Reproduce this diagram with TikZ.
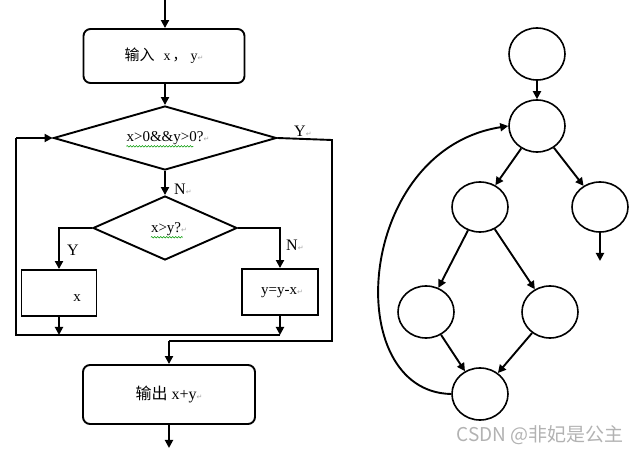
\documentclass[tikz,border=0pt]{standalone}
\usepackage{fontspec}
\setmainfont{Liberation Serif}
\newfontfamily\cjk{Noto Sans CJK SC}
\newfontfamily\symf{DejaVu Sans}
\usetikzlibrary{arrows.meta,shapes.geometric,decorations.pathmorphing}
\newcommand{\ret}{{\symf\fontsize{7}{7}\selectfont\color{gray!70}↵}}
\begin{document}
\begin{tikzpicture}[x=1pt,y=-1pt,
  ln/.style={line width=1.9pt},
  arr/.style={ln,-{Triangle[length=8pt,width=8pt]}},
  rbox/.style={draw,ln,rounded corners=7pt,inner sep=0pt},
  pbox/.style={draw,ln,inner sep=0pt},
  dia/.style={draw,ln,diamond,inner sep=0pt,aspect=3.4},
  circ/.style={draw,line width=1.6pt,ellipse,inner sep=0pt,minimum width=56pt,minimum height=52pt},
  lat/.style={font=\fontsize{15}{15}\selectfont},
  lab/.style={font=\fontsize{16}{16}\selectfont,inner sep=0pt},
  wavy/.style={draw=green!60!black,line width=0.5pt,decorate,decoration={snake,amplitude=0.8pt,segment length=3pt}}
]
\useasboundingbox (0,0) rectangle (641,454);
% ---------- flowchart ----------
\coordinate (top) at (165,0);
\node[rbox,minimum width=161pt,minimum height=54pt] (in) at (164,56)
  {{\cjk\fontsize{15}{15}\selectfont 输入}\hspace{9pt}{\fontsize{14}{14}\selectfont x\hspace{2pt}{\cjk ，}\hspace{4pt}y}\ret};
\node[dia,minimum width=223pt,minimum height=64pt] (d1) at (165,138) {};
\node[lat,inner sep=0pt] (t1) at (168,138) {x>0\&\&y>0?\ret};
\node[dia,minimum width=144pt,minimum height=64pt] (d2) at (165,228) {};
\node[lat,inner sep=0pt] (t2) at (169,229) {x>y?\ret};
\node[pbox,minimum width=75pt,minimum height=46pt] (lb) at (59,293) {};
\node[lat,inner sep=0pt] (lbt) at (77,298) {x};
\node[pbox,minimum width=76pt,minimum height=46pt] (rb) at (280,292) {};
\node[lat,inner sep=0pt] (rbt) at (282,293) {y=y-x\ret};
\node[rbox,minimum width=172pt,minimum height=59pt] (out) at (169,394.5)
  {{\cjk\fontsize{16}{16}\selectfont 输出}\hspace{4pt}{\fontsize{16}{16}\selectfont x+y}\ret};
\coordinate (bot) at (169,448);
% wavy underlines
\draw[wavy] (t1.south west) ++(0,1.5) -- ++(67,0);
\draw[wavy] (t2.south west) ++(0,1.5) -- ++(32,0);
% labels
\node[lab,anchor=west] (ly1) at (294,131) {Y\ret};
\node[lab,anchor=west] (ln1) at (174,189) {N\ret};
\node[lab,anchor=west] (ly2) at (67,250) {Y};
\node[lab,anchor=west] (ln2) at (286,245) {N\ret};
% connectors
\draw[arr] (top) -- (in.north -| top);
\draw[arr] (in.south -| d1.north) -- (d1.north);
\draw[arr] (d1.south) -- (d2.north);
\draw[arr] (d2.west) -| (lb.north);
\draw[arr] (d2.east) -| (rb.north);
\coordinate (bl) at (16,335);
\coordinate (br) at (rb.south |- bl);
\draw[ln] (br) -- (bl) -- (bl |- d1.west);
\draw[arr] (bl |- d1.west) -- (d1.west);
\draw[arr] (lb.south) -- (lb.south |- bl);
\draw[arr] (rb.south) -- (br);
\coordinate (ye) at (332,140);
\coordinate (yb) at (332,341);
\draw[ln] (d1.east) -- (ye) -- (yb) -- (yb -| out.north);
\draw[arr] (yb -| out.north) -- (out.north);
\draw[arr] (out.south) -- (bot);
% ---------- graph ----------
\node[circ] (n1) at (537,54) {};
\node[circ] (n2) at (537,126) {};
\node[circ,minimum width=56pt,minimum height=50pt] (n3) at (480,207) {};
\node[circ,minimum width=56pt,minimum height=50pt] (n4) at (600,207) {};
\node[circ] (n5) at (426,312) {};
\node[circ] (n6) at (550,312) {};
\node[circ] (n7) at (480,394) {};
\coordinate (n4e) at (600,261);
\draw[arr] (n1) -- (n2);
\draw[arr] (n2) -- (n3);
\draw[arr] (n2) -- (n4);
\draw[arr] (n3) -- (n5);
\draw[arr] (n3) -- (n6);
\draw[arr] (n5) -- (n7);
\draw[arr] (n6) -- (n7);
\draw[arr] (n4.south) -- (n4e);
\draw[arr] (n7.west) .. controls (340,392) and (355,150) .. (n2.west);
% watermark
\node[font=\cjk\fontsize{19}{19}\selectfont,text=gray!60,inner sep=0pt] (wm) at (540,435) {CSDN @非妃是公主};
\end{tikzpicture}
\end{document}
